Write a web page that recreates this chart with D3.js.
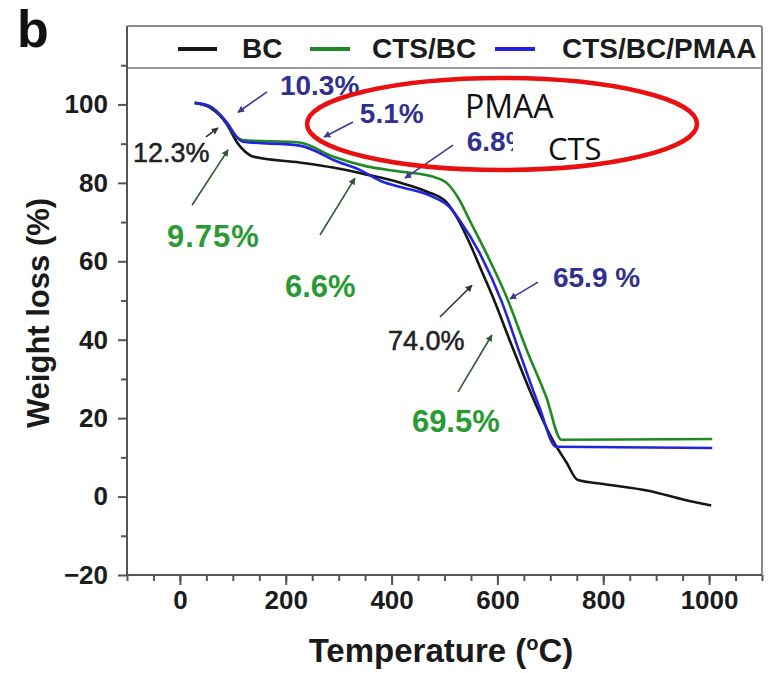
<!DOCTYPE html>
<html><head><meta charset="utf-8">
<script src="https://cdn.jsdelivr.net/npm/d3@7/dist/d3.min.js"></script>
<style>
html,body{margin:0;padding:0;background:#fff;}
svg{display:block;font-family:"Liberation Sans",Arial,sans-serif;}
</style></head>
<body>
<svg id="chart" width="771" height="673"></svg>
<script>
// ---------- data ----------
const seriesNames = ["BC", "CTS/BC", "CTS/BC/PMAA"];
const seriesColors = ["#161616", "#1f8a24", "#2424e0"];

const bcT = [28, 57, 89, 108, 123, 138, 226, 289, 353, 415, 466, 504, 525, 547, 570, 591, 628, 666, 704, 730, 752, 800, 885, 953, 1004];
const bcW = [100.4, 99.2, 94.9, 90.3, 88.0, 86.7, 85.2, 83.9, 82.1, 80.1, 77.8, 75.0, 70.8, 64.8, 57.6, 51.0, 38.2, 25.5, 14.5, 8.8, 4.2, 3.2, 1.5, -0.8, -2.3];

const ctsT = [28, 57, 89, 108, 119, 226, 289, 353, 415, 477, 504, 528, 547, 585, 617, 655, 692, 721, 1006];
const ctsW = [100.4, 99.5, 95.3, 91.6, 90.9, 90.3, 86.7, 84.2, 82.9, 81.6, 80.0, 75.7, 70.6, 60.4, 51.0, 37.5, 25.5, 14.5, 14.7];

const pmaaT = [28, 57, 89, 108, 119, 226, 258, 289, 340, 383, 415, 477, 509, 528, 566, 609, 642, 679, 711, 1006];
const pmaaW = [100.4, 99.5, 95.3, 91.6, 90.5, 89.5, 88.0, 85.9, 83.3, 80.3, 79.0, 76.5, 73.9, 70.6, 62.2, 49.4, 36.7, 22.9, 12.7, 12.4];

const xTickValues = [0, 200, 400, 600, 800, 1000];
const yTickValues = [-20, 0, 20, 40, 60, 80, 100];

// annotations: text, position (T, W), arrow from (T,W) to (T,W)
const annoText   = ["10.3%", "5.1%", "6.8%", "12.3%", "9.75%", "6.6%", "74.0%", "69.5%", "65.9 %"];
const annoPos    = [[189, 102.4], [340, 95.3], [542, 88.2], [-88.6, 85.3], [-24.4, 63.6], [198.6, 50.9], [393, 37.3], [438.4, 16.5], [705, 53.4]];
const annoArrow  = [[[164.6,103.2],[109.6,98.0]], [[327.1,95.5],[272.3,91.7]], [[516.1,89.6],[425.3,81.2]],
                    [[49.3,91.7],[72.0,94.0]], [[22.9,74.3],[90.9,88.4]], [[264.7,66.7],[330.8,81.2]],
                    [[491.5,45.8],[552,53.9]], [[525.5,26.7],[589.6,41.2]], [[676.7,54.7],[623.8,50.4]]];
const annoKind   = ["blue", "blue", "blue", "black", "green", "green", "black", "green", "blue"];

// ---------- setup ----------
const svg = d3.select("#chart");
const L = 127, R = 762, T0 = 26, B = 575;
const x = d3.scaleLinear().domain([-100, 1100]).range([L, R]);
const y = d3.scaleLinear().domain([-20, 120]).range([B, T0]);

const textColor = {blue: "#30308e", green: "#2a9a34", black: "#222"};
const arrowColor = {blue: "#3a3a90", green: "#2f5a32", black: "#333"};
const annoSize = {blue: 28, green: 31, black: 27};
const annoWeight = {blue: "bold", green: "bold", black: "normal"};

const defs = svg.append("defs");
Object.keys(arrowColor).forEach(k => {
  defs.append("marker").attr("id", "ah-" + k)
    .attr("viewBox", "0 0 10 10").attr("refX", 9).attr("refY", 5)
    .attr("markerWidth", 7).attr("markerHeight", 7).attr("markerUnits", "userSpaceOnUse")
    .attr("orient", "auto")
    .append("path").attr("d", "M0,0 L10,5 L0,10 z").attr("fill", arrowColor[k]);
});

// frame
svg.append("rect").attr("x", L).attr("y", T0).attr("width", R - L).attr("height", B - T0)
  .attr("fill", "none").attr("stroke", "#8a8a8a").attr("stroke-width", 2).attr("rx", 2);
svg.append("line").attr("x1", L).attr("x2", R).attr("y1", 68).attr("y2", 68)
  .attr("stroke", "#9a9a9a").attr("stroke-width", 2);

// axes
const xAxisMinor = d3.axisBottom(x).tickValues(d3.range(-100, 1101, 50)).tickSize(6).tickFormat("");
const xAxis = d3.axisBottom(x).tickValues(xTickValues).tickSize(10).tickPadding(6).tickFormat(d3.format("d"));
const yAxisMinor = d3.axisLeft(y).tickValues(d3.range(-10, 111, 20)).tickSize(6).tickFormat("");
const yAxis = d3.axisLeft(y).tickValues(yTickValues).tickSize(9).tickPadding(10).tickFormat(d => d < 0 ? "\u2212" + Math.abs(d) : d);

function styleAxis(g) {
  g.select(".domain").remove();
  g.selectAll("line").attr("stroke", "#555").attr("stroke-width", 2);
  g.selectAll("text").attr("fill", "#1c1c1c").attr("font-size", 26).attr("font-weight", "bold")
    .attr("font-family", "Liberation Sans, Arial, sans-serif");
}
svg.append("g").attr("transform", `translate(0,${B})`).call(xAxisMinor).call(styleAxis);
svg.append("g").attr("transform", `translate(0,${B})`).call(xAxis).call(styleAxis);
svg.append("g").attr("transform", `translate(${L},0)`).call(yAxisMinor).call(styleAxis);
svg.append("g").attr("transform", `translate(${L},0)`).call(yAxis).call(styleAxis);
svg.append("line").attr("x1", L).attr("x2", R).attr("y1", B).attr("y2", B).attr("stroke", "#555").attr("stroke-width", 2);
svg.append("line").attr("x1", L).attr("x2", L).attr("y1", T0).attr("y2", B).attr("stroke", "#555").attr("stroke-width", 2);

// axis titles
const xt = svg.append("text").attr("x", 441).attr("y", 662).attr("text-anchor", "middle")
  .attr("font-size", 33).attr("font-weight", "bold").attr("fill", "#1a1a1a");
xt.append("tspan").text("Temperature (");
xt.append("tspan").text("o").attr("font-size", 20).attr("dy", -12);
xt.append("tspan").text("C)").attr("dy", 12);

svg.append("text").attr("transform", "translate(49,313) rotate(-90)").attr("text-anchor", "middle")
  .attr("font-size", 31).attr("font-weight", "bold").attr("fill", "#1a1a1a").text("Weight loss (%)");

svg.append("text").attr("x", 17).attr("y", 47).attr("font-size", 52).attr("font-weight", "bold")
  .attr("fill", "#111").text("b");

// legend
const legendX = [[178, 217, 242], [310, 350, 372], [495, 535, 562]];
seriesNames.forEach((n, i) => {
  svg.append("line").attr("x1", legendX[i][0]).attr("x2", legendX[i][1]).attr("y1", 49).attr("y2", 49)
    .attr("stroke", seriesColors[i]).attr("stroke-width", 4);
  svg.append("text").attr("x", legendX[i][2]).attr("y", 58).attr("font-size", 28).attr("font-weight", "bold")
    .attr("fill", "#1c1c1c").text(n);
});

// curves
const line = d3.line().x(d => x(d[0])).y(d => y(d[1])).curve(d3.curveMonotoneX);
const seriesData = [d3.zip(bcT, bcW), d3.zip(ctsT, ctsW), d3.zip(pmaaT, pmaaW)];
seriesData.forEach((d, i) => {
  svg.append("path").datum(d).attr("d", line).attr("fill", "none")
    .attr("stroke", seriesColors[i]).attr("stroke-width", 2.6).attr("stroke-linejoin", "round");
});

// annotations
annoText.forEach((t, i) => {
  const k = annoKind[i];
  const a = annoArrow[i];
  svg.append("line").attr("x1", x(a[0][0])).attr("y1", y(a[0][1])).attr("x2", x(a[1][0])).attr("y2", y(a[1][1]))
    .attr("stroke", arrowColor[k]).attr("stroke-width", 1.6).attr("marker-end", `url(#ah-${k})`);
  const tx = svg.append("text").attr("x", x(annoPos[i][0])).attr("y", y(annoPos[i][1]))
    .attr("font-size", annoSize[k]).attr("font-weight", annoWeight[k]).attr("fill", textColor[k])
    .attr("letter-spacing", t === "9.75%" ? 1 : 0).text(t);
  if (k === "black") tx.attr("stroke", textColor[k]).attr("stroke-width", 0.5);
});

// overlay: white patch, red ellipse, labels
svg.append("rect").attr("x", 513).attr("y", 128).attr("width", 94).attr("height", 36).attr("fill", "#fff");
svg.append("ellipse").attr("cx", x(608.7)).attr("cy", y(95.0))
  .attr("rx", x(608.7 + 368.5) - x(608.7)).attr("ry", y(95.0 - 11.73) - y(95.0))
  .attr("fill", "none").attr("stroke", "#e81010").attr("stroke-width", 4.5);
svg.append("text").attr("x", x(538.6)).attr("y", y(96.5)).attr("font-family", "Open Sans, sans-serif")
  .attr("font-size", 32).attr("fill", "#111").text("PMAA");
svg.append("text").attr("x", x(695.5)).attr("y", y(85.8)).attr("font-family", "Open Sans, sans-serif")
  .attr("font-size", 31).attr("fill", "#111").text("CTS");
</script>
</body></html>
